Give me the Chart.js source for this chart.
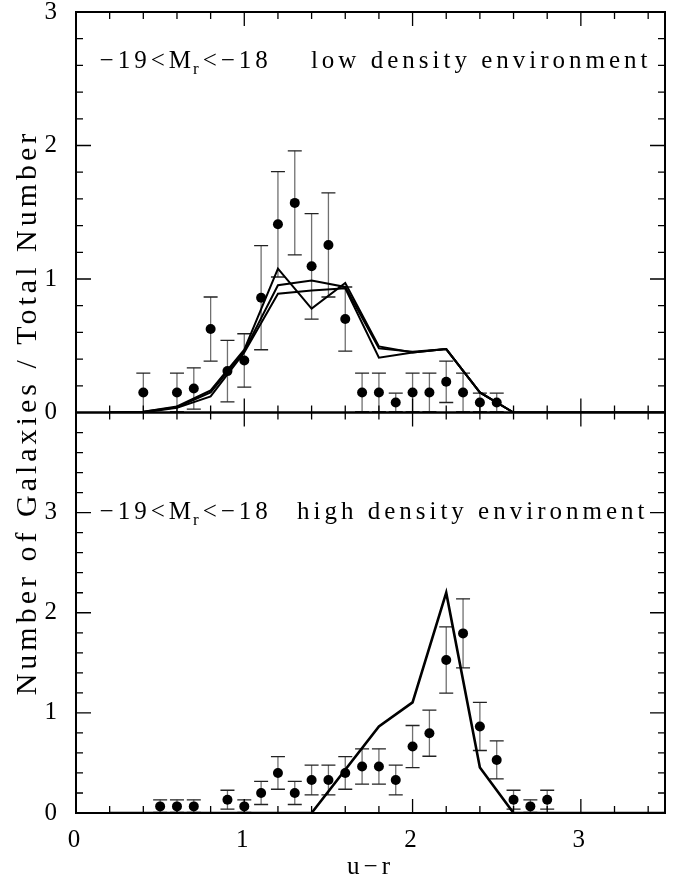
<!DOCTYPE html>
<html>
<head>
<meta charset="utf-8">
<script src="https://cdn.jsdelivr.net/npm/chart.js@4.4.1/dist/chart.umd.min.js"></script>
<style>
html, body { margin: 0; padding: 0; background: #fff; }
#wrap { position: relative; width: 678px; height: 875px; }
</style>
</head>
<body>
<div id="wrap"><canvas id="myChart" width="678" height="875"></canvas></div>
<script>
const FONT = '"Liberation Serif", "Times New Roman", serif';

// top panel: low density environment
const lowX = [0.4, 0.6, 0.7, 0.8, 0.9, 1.0, 1.1, 1.2, 1.3, 1.4, 1.5, 1.6, 1.7, 1.8, 1.9, 2.0, 2.1, 2.2, 2.3, 2.4, 2.5];
const lowY = [0.15, 0.15, 0.18, 0.625, 0.31, 0.39, 0.86, 1.41, 1.57, 1.095, 1.255, 0.70, 0.15, 0.15, 0.075, 0.15, 0.15, 0.23, 0.15, 0.075, 0.075];
const lowErr = [0.145, 0.145, 0.155, 0.24, 0.23, 0.2, 0.39, 0.395, 0.39, 0.395, 0.39, 0.24, 0.145, 0.145, 0.07, 0.145, 0.145, 0.155, 0.145, 0.07, 0.07];

// three model curves in the top panel
const lowModelX = [0.2, 0.4, 0.6, 0.8, 1.0, 1.2, 1.4, 1.6, 1.8, 2.0, 2.2, 2.4, 2.6, 3.5];
const lowModelA = [0, 0.005, 0.045, 0.165, 0.47, 1.078, 0.778, 0.97, 0.495, 0.45, 0.475, 0.15, 0, 0];
const lowModelB = [0, 0.005, 0.04, 0.15, 0.46, 0.953, 0.988, 0.94, 0.48, 0.455, 0.475, 0.15, 0, 0];
const lowModelC = [0, 0, 0.035, 0.12, 0.45, 0.89, 0.913, 0.93, 0.41, 0.45, 0.475, 0.15, 0, 0];

// bottom panel: high density environment
const highX = [0.5, 0.6, 0.7, 0.9, 1.0, 1.1, 1.2, 1.3, 1.4, 1.5, 1.6, 1.7, 1.8, 1.9, 2.0, 2.1, 2.2, 2.3, 2.4, 2.5, 2.6, 2.7, 2.8];
const highY = [0.066, 0.066, 0.066, 0.133, 0.066, 0.2, 0.4, 0.2, 0.33, 0.33, 0.4, 0.465, 0.465, 0.33, 0.664, 0.797, 1.528, 1.794, 0.864, 0.53, 0.133, 0.066, 0.133];
const highErr = [0.066, 0.066, 0.066, 0.094, 0.066, 0.115, 0.163, 0.115, 0.149, 0.149, 0.163, 0.176, 0.176, 0.149, 0.21, 0.23, 0.33, 0.345, 0.24, 0.19, 0.094, 0.066, 0.094];

const highModelX = [0.2, 1.4, 1.8, 2.0, 2.2, 2.4, 2.6, 3.5];
const highModel = [0, 0, 0.865, 1.105, 2.2, 0.455, 0, 0];

// panel captions
const rangeText = ['\u221219<M', 'r', '<\u221218'];
const envText = ['low density environment', 'high density environment'];

const xyPairs = (xs, ys) => xs.map((x, i) => ({ x: x, y: ys[i] }));

// letter spacing for the wide plotter-style lettering
const spacingPlugin = {
    id: 'spacing',
    beforeDraw(chart) { chart.ctx.letterSpacing = '4px'; },
    // the y title axis is drawn after the datasets (z: 1), with wider spacing
    afterDatasetsDraw(chart) { chart.ctx.letterSpacing = '8.5px'; }
};

// error bars drawn under the dots
const errorBarPlugin = {
    id: 'errorBars',
    beforeDatasetsDraw(chart) {
        const ctx = chart.ctx;
        ctx.save();
        chart.data.datasets.forEach((ds, i) => {
            if (!ds.errors) return;
            const meta = chart.getDatasetMeta(i);
            const xs = chart.scales[meta.xAxisID];
            const ys = chart.scales[meta.yAxisID];
            ds.data.forEach((p, k) => {
                const px = xs.getPixelForValue(p.x);
                const hi = ys.getPixelForValue(p.y + ds.errors[k]);
                const lo = ys.getPixelForValue(Math.max(0.006, p.y - ds.errors[k]));
                ctx.lineWidth = 1.3;
                ctx.strokeStyle = '#707070';
                ctx.beginPath();
                ctx.moveTo(px, hi); ctx.lineTo(px, lo);
                ctx.stroke();
                ctx.strokeStyle = '#222';
                ctx.beginPath();
                ctx.moveTo(px - 7, hi); ctx.lineTo(px + 7, hi);
                ctx.moveTo(px - 7, lo); ctx.lineTo(px + 7, lo);
                ctx.stroke();
            });
        });
        ctx.restore();
    }
};

// boxes with inward ticks on all four sides of each panel
const framePlugin = {
    id: 'frame',
    afterDatasetsDraw(chart) {
        const { ctx, chartArea, scales } = chart;
        const xs = scales.x;
        ctx.save();
        ctx.strokeStyle = '#000';
        ['yTop', 'yBot'].forEach(id => {
            const ys = scales[id];
            const t = ys.top, b = ys.bottom, l = chartArea.left, r = chartArea.right;
            ctx.lineWidth = 1.3;
            ctx.beginPath();
            for (let i = 1; i < 18; i++) {
                const px = xs.getPixelForValue(i / 5);
                const len = i % 5 === 0 ? 14 : 7;
                ctx.moveTo(px, b); ctx.lineTo(px, b - len);
                ctx.moveTo(px, t); ctx.lineTo(px, t + len);
            }
            for (let j = 1; j < ys.max * 5; j++) {
                const py = ys.getPixelForValue(j / 5);
                const len = j % 5 === 0 ? 15 : 7;
                ctx.moveTo(l, py); ctx.lineTo(l + len, py);
                ctx.moveTo(r, py); ctx.lineTo(r - len, py);
            }
            ctx.stroke();
            ctx.lineWidth = 2;
            ctx.strokeRect(l, t, r - l, b - t);
        });
        ctx.restore();
    }
};

// "-19<Mr<-18   low density environment" captions
const captionPlugin = {
    id: 'captions',
    afterDraw(chart) {
        const { ctx, scales } = chart;
        const xs = scales.x;
        const rows = [
            { scale: scales.yTop, y: 2.63, envX: 1.396, env: envText[0] },
            { scale: scales.yBot, y: 3.0, envX: 1.313, env: envText[1] }
        ];
        ctx.save();
        ctx.fillStyle = '#000';
        ctx.textBaseline = 'middle';
        ctx.textAlign = 'left';
        ctx.letterSpacing = '4px';
        rows.forEach(row => {
            const py = row.scale.getPixelForValue(row.y);
            let px = xs.getPixelForValue(0.14);
            ctx.font = '25px ' + FONT;
            ctx.fillText(rangeText[0], px, py);
            px += ctx.measureText(rangeText[0]).width;
            ctx.font = '17px ' + FONT;
            ctx.fillText(rangeText[1], px - 2, py + 8);
            px += ctx.measureText(rangeText[1]).width - 2;
            ctx.font = '25px ' + FONT;
            ctx.fillText(rangeText[2], px, py);
            ctx.fillText(row.env, xs.getPixelForValue(row.envX), py);
        });
        ctx.restore();
    }
};

const tickFont = { family: FONT, size: 25 };
const noScalePadding = s => { s.paddingTop = 0; s.paddingBottom = 0; };

const ctx = document.getElementById('myChart').getContext('2d');
const myChart = new Chart(ctx, {
    type: 'scatter',
    data: {
        datasets: [
            {
                data: xyPairs(lowX, lowY),
                errors: lowErr,
                yAxisID: 'yTop',
                pointRadius: 5,
                pointBackgroundColor: '#000',
                pointBorderWidth: 0
            },
            {
                data: xyPairs(lowModelX, lowModelA),
                yAxisID: 'yTop',
                showLine: true, pointRadius: 0, borderColor: '#000', borderWidth: 2
            },
            {
                data: xyPairs(lowModelX, lowModelB),
                yAxisID: 'yTop',
                showLine: true, pointRadius: 0, borderColor: '#000', borderWidth: 2
            },
            {
                data: xyPairs(lowModelX, lowModelC),
                yAxisID: 'yTop',
                showLine: true, pointRadius: 0, borderColor: '#000', borderWidth: 2
            },
            {
                data: xyPairs(highX, highY),
                errors: highErr,
                yAxisID: 'yBot',
                pointRadius: 5,
                pointBackgroundColor: '#000',
                pointBorderWidth: 0
            },
            {
                data: xyPairs(highModelX, highModel),
                yAxisID: 'yBot',
                showLine: true, pointRadius: 0, borderColor: '#000', borderWidth: 2.6
            }
        ]
    },
    options: {
        responsive: false,
        animation: false,
        events: [],
        layout: { padding: { top: 12, right: 13, bottom: 0, left: 0 } },
        plugins: { legend: { display: false }, tooltip: { enabled: false } },
        scales: {
            x: {
                type: 'linear', position: 'bottom', min: 0, max: 3.5,
                grid: { display: false, drawTicks: false },
                border: { display: false },
                ticks: {
                    stepSize: 1, padding: 12, color: '#000', font: tickFont,
                    maxRotation: 0, autoSkip: false,
                    callback: v => Number.isInteger(v) ? String(v) : ''
                },
                title: {
                    display: true, text: 'u\u2212r', color: '#000', padding: 0,
                    font: { family: FONT, size: 25, lineHeight: 0.64 }
                },
                afterFit: s => { s.height = 62; s.paddingLeft = 0; s.paddingRight = 0; }
            },
            yBot: {
                type: 'linear', position: 'left', stack: 'panels', stackWeight: 1, weight: 0,
                min: 0, max: 4,
                grid: { display: false, drawTicks: false },
                border: { display: false },
                ticks: {
                    stepSize: 1, padding: 15, color: '#000', font: tickFont,
                    callback: v => v === 4 ? '' : String(v)
                },
                afterFit: s => { s.width = 38; noScalePadding(s); }
            },
            yTop: {
                type: 'linear', position: 'left', stack: 'panels', stackWeight: 1, weight: 0,
                min: 0, max: 3,
                grid: { display: false, drawTicks: false },
                border: { display: false },
                ticks: { stepSize: 1, padding: 15, color: '#000', font: tickFont },
                afterFit: s => { s.width = 38; noScalePadding(s); }
            },
            yTitle: {
                type: 'linear', position: 'left', weight: 10, z: 1, min: 0, max: 1,
                grid: { display: false, drawTicks: false },
                border: { display: false },
                ticks: { display: false },
                title: {
                    display: true, text: 'Number of Galaxies / Total Number', color: '#000',
                    font: { family: FONT, size: 30, lineHeight: 1.2 },
                    padding: { top: 10, bottom: 0 }
                },
                afterFit: s => { s.width = 38; noScalePadding(s); }
            }
        }
    },
    plugins: [spacingPlugin, errorBarPlugin, framePlugin, captionPlugin]
});
</script>
</body>
</html>
